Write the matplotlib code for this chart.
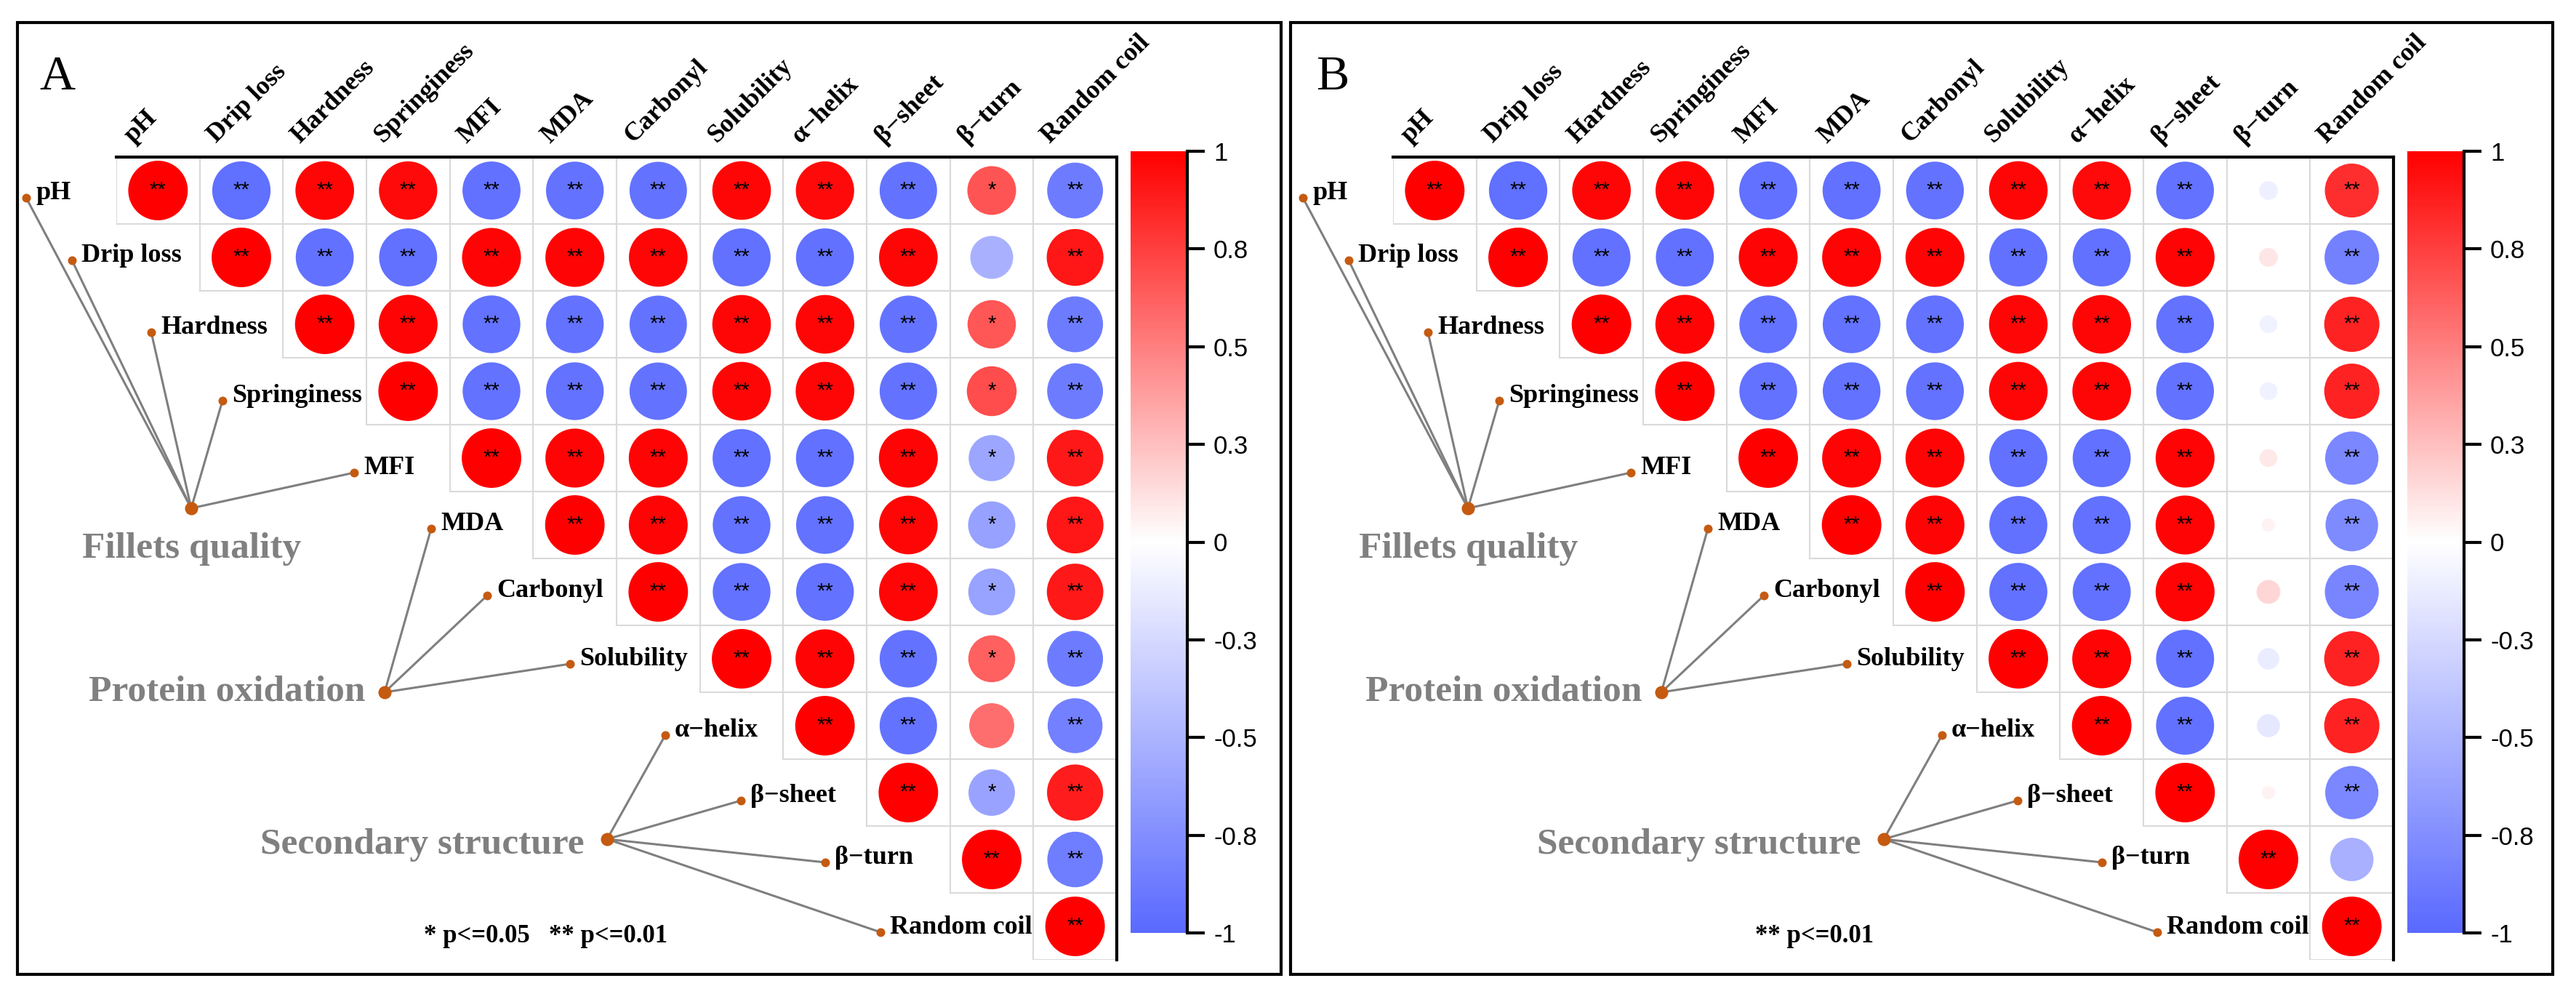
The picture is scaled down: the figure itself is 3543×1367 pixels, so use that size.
import matplotlib.pyplot as plt
import numpy as np
from matplotlib.colors import LinearSegmentedColormap
from matplotlib.patches import Rectangle

plt.rcParams["font.family"] = ["Liberation Serif", "DejaVu Serif"]

variables = ["pH", "Drip loss", "Hardness", "Springiness", "MFI", "MDA",
             "Carbonyl", "Solubility", "α−helix", "β−sheet", "β−turn", "Random coil"]
groups = ["Fillets quality", "Protein oxidation", "Secondary structure"]
group_members = [[0, 1, 2, 3, 4], [5, 6, 7], [8, 9, 10, 11]]

# upper triangle of the correlation matrix: row i holds columns i..11
corr_a = [
    [1, -0.96, 0.97, 0.96, -0.95, -0.94, -0.93, 0.97, 0.96, -0.93, 0.67, -0.88],
    [1, -0.95, -0.95, 0.98, 0.98, 0.97, -0.95, -0.95, 0.97, -0.52, 0.91],
    [1, 0.98, -0.94, -0.94, -0.93, 0.97, 0.97, -0.93, 0.66, -0.88],
    [1, -0.94, -0.94, -0.93, 0.97, 0.97, -0.93, 0.70, -0.88],
    [1, 0.98, 0.98, -0.95, -0.95, 0.98, -0.60, 0.90],
    [1, 0.98, -0.94, -0.94, 0.97, -0.63, 0.91],
    [1, -0.94, -0.94, 0.97, -0.62, 0.90],
    [1, 0.98, -0.93, 0.62, -0.88],
    [1, -0.93, 0.57, -0.85],
    [1, -0.61, 0.89],
    [1, -0.87],
    [1],
]
stars_a = [
    ["**"] * 10 + ["*", "**"],
    ["**"] * 9 + ["", "**"],
    ["**"] * 8 + ["*", "**"],
    ["**"] * 7 + ["*", "**"],
    ["**"] * 6 + ["*", "**"],
    ["**"] * 5 + ["*", "**"],
    ["**"] * 4 + ["*", "**"],
    ["**"] * 3 + ["*", "**"],
    ["**"] * 2 + ["", "**"],
    ["**", "*", "**"],
    ["**", "**"],
    ["**"],
]

corr_b = [
    [1, -0.96, 0.97, 0.97, -0.95, -0.95, -0.94, 0.97, 0.96, -0.94, -0.10, 0.82],
    [1, -0.95, -0.95, 0.98, 0.98, 0.98, -0.95, -0.95, 0.98, 0.10, -0.84],
    [1, 0.98, -0.94, -0.94, -0.94, 0.97, 0.97, -0.94, -0.09, 0.86],
    [1, -0.94, -0.94, -0.94, 0.97, 0.97, -0.94, -0.09, 0.86],
    [1, 0.98, 0.98, -0.95, -0.95, 0.98, 0.09, -0.80],
    [1, 0.98, -0.95, -0.95, 0.98, 0.05, -0.78],
    [1, -0.95, -0.95, 0.98, 0.16, -0.82],
    [1, 0.98, -0.95, -0.13, 0.86],
    [1, -0.95, -0.15, 0.86],
    [1, 0.05, -0.80],
    [1, -0.53],
    [1],
]
stars_b = [
    ["**"] * 10 + ["", "**"],
    ["**"] * 9 + ["", "**"],
    ["**"] * 8 + ["", "**"],
    ["**"] * 7 + ["", "**"],
    ["**"] * 6 + ["", "**"],
    ["**"] * 5 + ["", "**"],
    ["**"] * 4 + ["", "**"],
    ["**"] * 3 + ["", "**"],
    ["**"] * 2 + ["", "**"],
    ["**", "", "**"],
    ["**", ""],
    ["**"],
]

cbar_ticks = [-1, -0.75, -0.5, -0.25, 0, 0.25, 0.5, 0.75, 1]
cbar_labels = ["-1", "-0.8", "-0.5", "-0.3", "0", "0.3", "0.5", "0.8", "1"]
legend_a = "* p<=0.05   ** p<=0.01"
legend_b = "** p<=0.01"

# layout in pixels (panel A; panel B is shifted right)
W, H = 3543, 1367
SHIFT = 1756
label_dots = [(36, 272), (99, 358), (208, 457), (306, 551), (487, 650), (593, 727),
              (670, 819), (784, 913), (915, 1011), (1019, 1101), (1135, 1186), (1211, 1282)]
group_nodes = [(263, 699), (529, 952), (835, 1154)]
group_text = [(264, 767, "center"), (502, 963, "right"), (804, 1174, "right")]

cmap = LinearSegmentedColormap.from_list("bwr2", ["#5A6AFF", "#FFFFFF", "#FF0000"])
dot_color = "#C55A11"
line_color = "#7F7F7F"


def fig_rect(x, y, w, h):
    return [x / W, 1 - (y + h) / H, w / W, h / H]


def draw_panel(fig, bg, dx, corr, stars, letter, legend, legend_x, frame):
    # frame and letter
    bg.add_patch(Rectangle((frame[0], 31), frame[1] - frame[0], 1309,
                           fill=False, ec="black", lw=3))
    bg.text(54 + dx, 123, letter, fontsize=49, ha="left", va="baseline")

    # grouping tree
    for g, members in enumerate(group_members):
        nx, ny = group_nodes[g]
        for m in members:
            x, y = label_dots[m]
            bg.plot([nx + dx, x + dx], [ny, y], color=line_color, lw=2.2,
                    solid_capstyle="round", zorder=2)
        tx, ty, ha = group_text[g]
        bg.text(tx + dx, ty, groups[g], fontsize=37, fontweight="bold",
                color="#808080", ha=ha, va="baseline")
    bg.scatter([x + dx for x, _ in label_dots], [y for _, y in label_dots],
               s=75, color=dot_color, linewidths=0, zorder=3)
    bg.scatter([x + dx for x, _ in group_nodes], [y for _, y in group_nodes],
               s=170, color=dot_color, linewidths=0, zorder=3)
    for name, (x, y) in zip(variables, label_dots):
        bg.text(x + dx + 13, y + 2, name, fontsize=26, fontweight="bold",
                ha="left", va="baseline")
    bg.text(legend_x + dx, 1296, legend, fontsize=25, fontweight="bold",
            ha="left", va="baseline")

    # correlation matrix
    ax = fig.add_axes(fig_rect(160 + dx, 216, 1376, 1104))
    ax.set_xlim(0, 12)
    ax.set_ylim(12, 0)
    ax.patch.set_alpha(0)
    ax.set_xticks([])
    ax.set_yticks([])
    for s in ("left", "bottom"):
        ax.spines[s].set_visible(False)
    for s in ("top", "right"):
        ax.spines[s].set_linewidth(3)
    xs, ys, vals = [], [], []
    for i, row in enumerate(corr):
        for k, r in enumerate(row):
            j = i + k
            ax.add_patch(Rectangle((j, i), 1, 1, fill=False, ec="#DADADA", lw=1.5, zorder=1))
            xs.append(j + 0.5)
            ys.append(i + 0.5)
            vals.append(r)
            if stars[i][k]:
                ax.text(j + 0.5, i + 0.5, stars[i][k], ha="center", va="center",
                        fontsize=21, family="Liberation Sans", zorder=4)
    vals = np.array(vals)
    cell_pt = 92 * 0.72
    sizes = (0.89 * cell_pt * np.sqrt(np.abs(vals))) ** 2
    ax.scatter(xs, ys, s=sizes, c=vals, cmap=cmap, vmin=-1, vmax=1,
               linewidths=0, zorder=3)
    for j, name in enumerate(variables):
        ax.text(j + 0.2, -0.2, name, rotation=45, rotation_mode="anchor",
                ha="left", va="baseline", fontsize=26, fontweight="bold", clip_on=False)

    # colour bar
    cax = fig.add_axes(fig_rect(1555 + dx, 208, 78, 1075))
    grad = np.linspace(-1, 1, 256).reshape(-1, 1)
    cax.imshow(grad, aspect="auto", cmap=cmap, origin="lower",
               extent=[0, 1, -1, 1], vmin=-1, vmax=1)
    cax.set_xlim(0, 1)
    cax.set_ylim(-1, 1)
    cax.set_xticks([])
    cax.yaxis.tick_right()
    cax.set_yticks(cbar_ticks, cbar_labels)
    cax.tick_params(axis="y", length=17, width=3, pad=9, labelsize=25)
    for lab in cax.get_yticklabels():
        lab.set_family("Liberation Sans")
    for s in ("left", "top", "bottom"):
        cax.spines[s].set_visible(False)
    cax.spines["right"].set_linewidth(3)


fig = plt.figure(figsize=(W / 100, H / 100), dpi=100)
bg = fig.add_axes([0, 0, 1, 1])
bg.set_xlim(0, W)
bg.set_ylim(H, 0)
bg.axis("off")

draw_panel(fig, bg, 0, corr_a, stars_a, "A", legend_a, 583, (24, 1762))
draw_panel(fig, bg, SHIFT, corr_b, stars_b, "B", legend_b, 658, (1775, 3511))

fig.savefig("out.png", dpi=100)
plt.close(fig)
